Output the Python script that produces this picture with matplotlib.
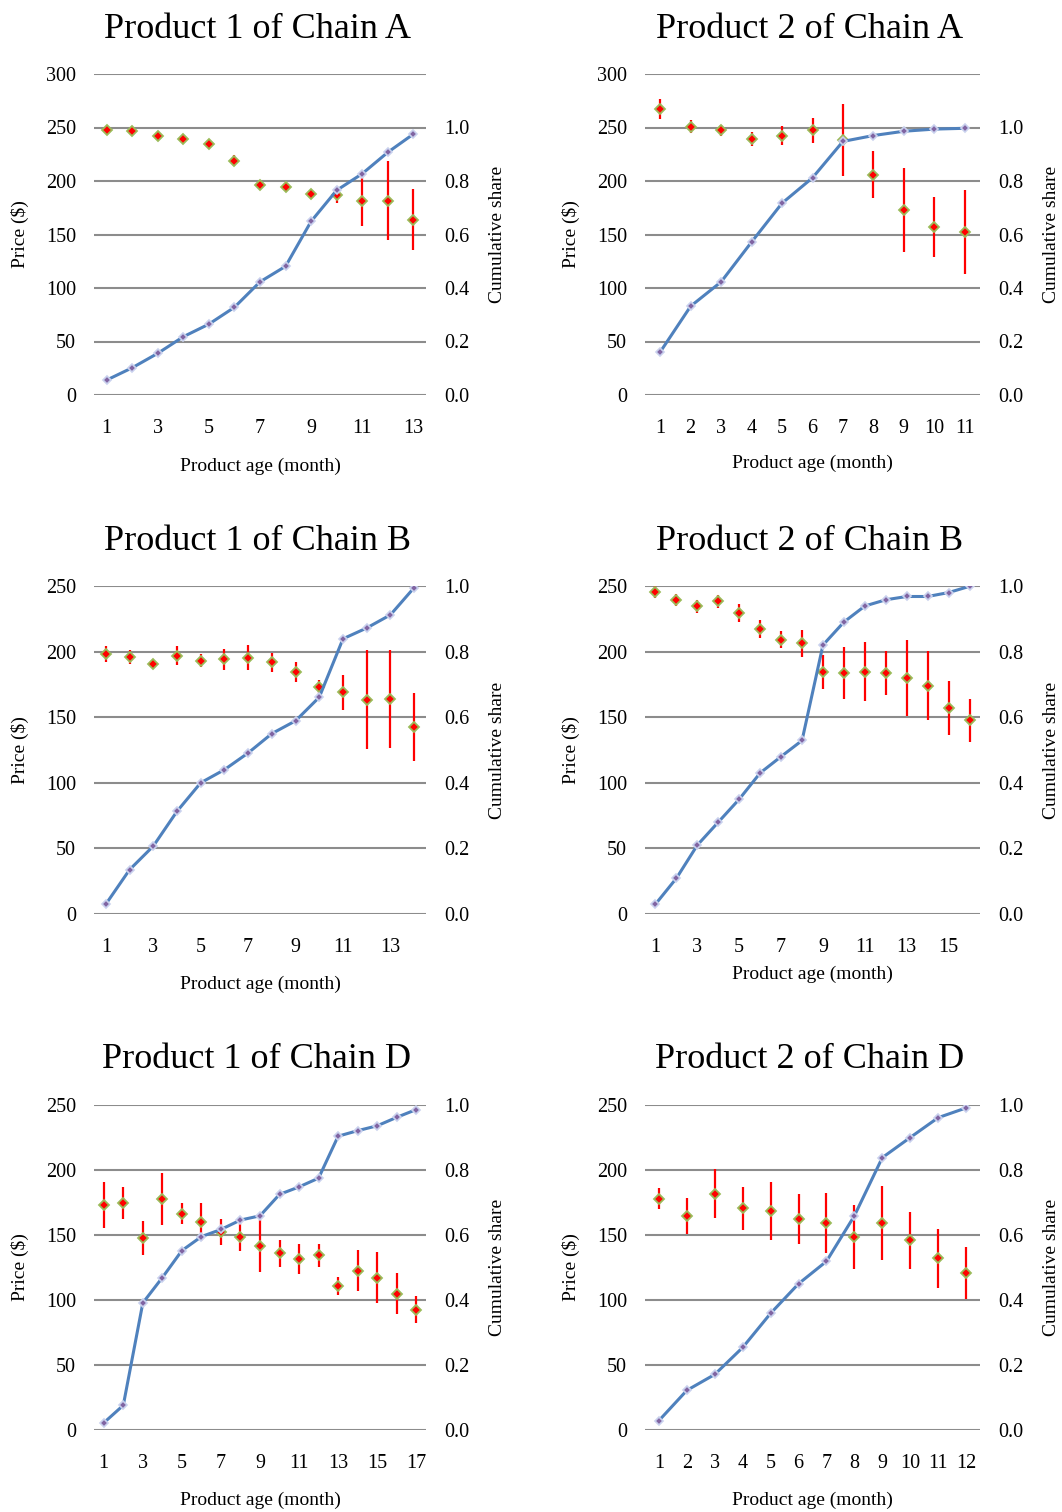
import numpy as np
import matplotlib
matplotlib.use("Agg")
import matplotlib.pyplot as plt

plt.rcParams['font.family'] = ['Liberation Serif', 'DejaVu Serif']

# ---- data ----
titles = ["Product 1 of Chain A", "Product 2 of Chain A",
          "Product 1 of Chain B", "Product 2 of Chain B",
          "Product 1 of Chain D", "Product 2 of Chain D"]

price_a1 = [247.4, 246.4, 242.4, 239.0, 234.3, 219.0, 196.6, 194.8, 187.9, 187.3, 181.4, 181.4, 163.7]
err_a1 = [1.5, 1.5, 1.5, 1.5, 1.5, 5, 1.5, 1.5, 1.5, 8, 23.5, 37, 28.5]
share_a1 = [0.056, 0.102, 0.156, 0.218, 0.265, 0.328, 0.423, 0.481, 0.649, 0.765, 0.827, 0.907, 0.975]

price_a2 = [267.3, 250.9, 247.2, 239.3, 242.5, 247.2, 238.4, 205.7, 172.7, 157.0, 152.3]
err_a2 = [9.4, 6, 5.5, 6.4, 8.5, 12, 34, 22, 39, 27.6, 39]
share_a2 = [0.161, 0.332, 0.423, 0.572, 0.717, 0.812, 0.948, 0.970, 0.986, 0.994, 0.997]

price_b1 = [198.1, 196.0, 190.7, 197.0, 193.2, 194.2, 195.5, 191.7, 184.3, 173.1, 169.0, 163.4, 163.9, 142.6]
err_b1 = [6, 5.3, 1.5, 6.9, 5.2, 7.9, 9.9, 7.5, 7.6, 5.5, 13.4, 38, 37, 26]
share_b1 = [0.030, 0.135, 0.207, 0.313, 0.400, 0.440, 0.491, 0.550, 0.589, 0.661, 0.839, 0.872, 0.912, 0.995]

price_b2 = [245.4, 239.3, 234.5, 238.3, 229.6, 217.2, 209.0, 206.5, 184.6, 183.8, 184.6, 183.6, 180.0, 173.9, 157.3, 147.7]
err_b2 = [4.8, 4.8, 5, 5, 6.9, 6.9, 6.5, 10.3, 13, 20, 22.5, 16.8, 29, 26.3, 20.6, 16.4]
share_b2 = [0.030, 0.109, 0.210, 0.280, 0.350, 0.430, 0.480, 0.529, 0.820, 0.890, 0.939, 0.958, 0.968, 0.968, 0.980, 0.999]

price_d1 = [173.0, 174.8, 147.9, 177.6, 166.3, 159.7, 152.5, 148.4, 141.2, 136.1, 131.3, 134.3, 110.8, 122.6, 117.2, 104.9, 92.4]
err_d1 = [17.5, 12.3, 13, 20, 8, 14.6, 10, 10.7, 20, 10.4, 11.5, 8.8, 6.9, 16, 19.6, 15.7, 10.4]
share_d1 = [0.022, 0.076, 0.391, 0.469, 0.552, 0.595, 0.617, 0.646, 0.659, 0.725, 0.748, 0.775, 0.904, 0.921, 0.936, 0.962, 0.986]

price_d2 = [177.8, 164.8, 181.9, 170.4, 168.4, 162.2, 159.2, 148.2, 159.2, 145.9, 132.0, 121.0]
err_d2 = [8, 13.8, 18.8, 16.5, 22.3, 19.2, 23.4, 24.6, 28.8, 21.9, 23, 20]
share_d2 = [0.029, 0.122, 0.171, 0.254, 0.359, 0.450, 0.519, 0.659, 0.838, 0.900, 0.961, 0.991]

prices = [price_a1, price_a2, price_b1, price_b2, price_d1, price_d2]
errs = [err_a1, err_a2, err_b1, err_b2, err_d1, err_d2]
shares = [share_a1, share_a2, share_b1, share_b2, share_d1, share_d2]
price_max = [300, 300, 250, 250, 250, 250]
tick_step = [2, 1, 2, 2, 2, 1]

# ---- layout in pixels (figure is 1062 x 1512) ----
W, H = 1062, 1512
col_x = [(94, 426), (645, 980)]
row_y = [(74, 395), (586, 914), (1105, 1430)]
title_y = [30, 542, 1059]
xlabel_y = [[466, 463], [984, 974], [1500, 1500]]

fig = plt.figure(figsize=(W / 100, H / 100), dpi=100)

line_col = '#4F81BD'
grid_col = '#8C8C8C'

for k in range(6):
    r, c = divmod(k, 2)
    x0, x1 = col_x[c]
    y0, y1 = row_y[r]
    ax = fig.add_axes([x0 / W, 1 - y1 / H, (x1 - x0) / W, (y1 - y0) / H])
    ax2 = ax.twinx()

    n = len(prices[k])
    x = np.arange(1, n + 1)

    ax.errorbar(x, prices[k], yerr=errs[k], fmt='D', color='red', ecolor='red',
                elinewidth=1.6, capsize=0, markersize=5.2, markerfacecolor='red',
                markeredgecolor='#9BBB59', markeredgewidth=1.3, zorder=3)

    scale = price_max[k] / 250
    ax2.plot(x, shares[k], color=line_col, lw=2.2, marker='D', markersize=3.8,
             markerfacecolor='#8064A2', markeredgecolor='#C9D1EE', markeredgewidth=1.2)

    ax.set_xlim(0.5, n + 0.5)
    ax.set_ylim(0, price_max[k])
    ax.set_yticks(np.arange(0, price_max[k] + 1, 50))
    ax2.set_ylim(0, scale)
    ax2.set_yticks(np.arange(0, 1.01, 0.2))
    ax2.set_yticklabels([f"{v:.1f}" for v in np.arange(0, 1.01, 0.2)])
    ax.set_xticks(x[::tick_step[k]])

    ax.yaxis.grid(True, color=grid_col, lw=1.5)
    ax.set_axisbelow(True)
    for a in (ax, ax2):
        for s in a.spines.values():
            s.set_visible(False)
        a.tick_params(length=0, labelsize=14.5)
    ax.tick_params(axis='y', pad=13)
    ax.tick_params(axis='x', pad=17)
    ax2.tick_params(axis='y', pad=13)

    cx = (x0 + x1) / 2
    cy = (y0 + y1) / 2
    fig.text((cx - 3) / W, 1 - title_y[r] / H, titles[k],
             ha='center', va='center', fontsize=26)
    fig.text((x0 - 74) / W, 1 - cy / H, "Price ($)", rotation=90,
             ha='center', va='center', fontsize=14)
    fig.text((x1 + 72) / W, 1 - cy / H, "Cumulative share", rotation=90,
             ha='center', va='center', fontsize=14)
    fig.text(cx / W, 1 - xlabel_y[r][c] / H, "Product age (month)",
             ha='center', va='center', fontsize=14)

fig.savefig("out.png", dpi=100)
